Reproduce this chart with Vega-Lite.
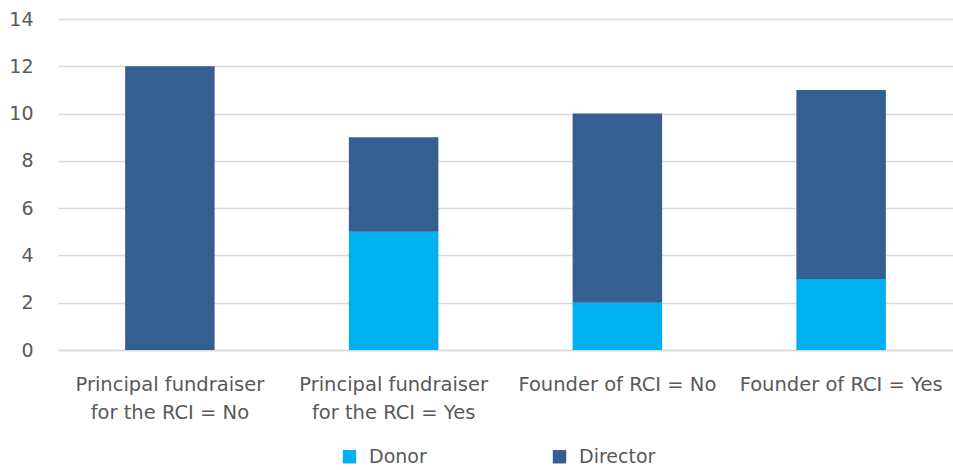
{
  "$schema": "https://vega.github.io/schema/vega-lite/v6.json",
  "width": 895,
  "height": 331,
  "autosize": "none",
  "padding": {"left": 58, "top": 19, "right": 0, "bottom": 120},
  "background": "white",
  "config": {
    "font": "DejaVu Sans",
    "view": {"stroke": null}
  },
  "data": {
    "values": [
      {"category": "Principal fundraiser for the RCI = No", "role": "Donor", "count": 0},
      {"category": "Principal fundraiser for the RCI = No", "role": "Director", "count": 12},
      {"category": "Principal fundraiser for the RCI = Yes", "role": "Donor", "count": 5},
      {"category": "Principal fundraiser for the RCI = Yes", "role": "Director", "count": 4},
      {"category": "Founder of RCI = No", "role": "Donor", "count": 2},
      {"category": "Founder of RCI = No", "role": "Director", "count": 8},
      {"category": "Founder of RCI = Yes", "role": "Donor", "count": 3},
      {"category": "Founder of RCI = Yes", "role": "Director", "count": 8}
    ]
  },
  "mark": {"type": "bar"},
  "encoding": {
    "x": {
      "field": "category",
      "type": "nominal",
      "sort": null,
      "title": null,
      "scale": {"paddingInner": 0.6, "paddingOuter": 0.3},
      "axis": {
        "labelAngle": 0,
        "labelFont": "DejaVu Sans",
        "labelFontSize": 19.5,
        "labelColor": "#595959",
        "labelPadding": 25,
        "labelLineHeight": 28,
        "labelLimit": 300,
        "ticks": false,
        "domainColor": "#d9d9d9",
        "domainWidth": 1.5,
        "labelExpr": "datum.label == 'Principal fundraiser for the RCI = No' ? ['Principal fundraiser', 'for the RCI = No'] : datum.label == 'Principal fundraiser for the RCI = Yes' ? ['Principal fundraiser', 'for the RCI = Yes'] : datum.label"
      }
    },
    "y": {
      "field": "count",
      "type": "quantitative",
      "stack": "zero",
      "title": null,
      "scale": {"domain": [0, 14], "nice": false},
      "axis": {
        "values": [0, 2, 4, 6, 8, 10, 12, 14],
        "labelFont": "DejaVu Sans",
        "labelFontSize": 19,
        "labelColor": "#595959",
        "labelPadding": 25,
        "ticks": false,
        "domain": false,
        "gridColor": "#d9d9d9",
        "gridWidth": 1.5
      }
    },
    "color": {
      "field": "role",
      "type": "nominal",
      "sort": ["Donor", "Director"],
      "scale": {"domain": ["Donor", "Director"], "range": ["#00B0F0", "#355F91"]},
      "legend": {
        "orient": "none",
        "legendX": 282,
        "legendY": 428,
        "padding": 0,
        "direction": "horizontal",
        "title": null,
        "symbolType": "square",
        "symbolSize": 180,
        "symbolStrokeWidth": 0,
        "labelFont": "DejaVu Sans",
        "labelFontSize": 19,
        "labelColor": "#595959",
        "labelOffset": 10,
        "columnPadding": 123
      }
    }
  }
}
